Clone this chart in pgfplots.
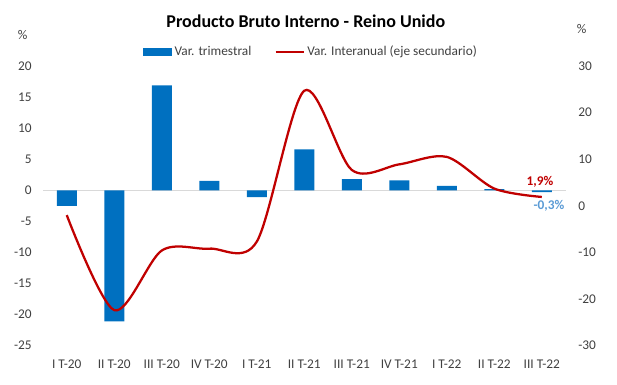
\documentclass[border=0pt]{standalone}
\usepackage{fontspec}
\setmainfont{Carlito}
\usepackage{pgfplots}
\usepackage{pgfplotstable}
\pgfplotsset{compat=1.18}
\definecolor{barblue}{HTML}{0070C0}
\definecolor{linered}{HTML}{C00000}
\definecolor{lblblue}{HTML}{5B9BD5}
\definecolor{txtgray}{HTML}{404040}
\definecolor{zerogray}{HTML}{D9D9D9}

\pgfplotstableread{
x q y
0 -2.5 -2.0
1 -21.1 -22.4
2 16.9 -9.6
3 1.5 -9.2
4 -1.1 -7.7
5 6.6 24.7
6 1.8 7.7
7 1.6 8.9
8 0.7 10.5
9 0.2 3.7
10 -0.3 1.9
}\data

\begin{document}
\begin{tikzpicture}
\path (0,0) rectangle (462.75pt,288.75pt);
\pgfplotsset{
  common/.style={
    scale only axis, width=391.9pt, height=209.6pt,
    at={(32.25pt,29.6pt)}, anchor=south west,
    xmin=-0.5, xmax=10.5,
    axis line style={draw=none},
    major tick length=0pt,
    tick label style={font=\fontsize{10}{12}\selectfont, text=txtgray},
    /pgf/number format/assume math mode=true,
  }
}
\begin{axis}[common,
  ymin=-25, ymax=20, ytick={-25,-20,...,20},
  xtick={0,...,10},
  xticklabels={I T-20, II T-20, III T-20, IV T-20, I T-21, II T-21, III T-21, IV T-21, I T-22, II T-22, III T-22},
  xticklabel style={yshift=-7pt},
  yticklabel style={xshift=-5pt},
  extra y ticks={0}, extra y tick labels={},
  extra y tick style={ymajorgrids=true, major grid style={zerogray, line width=0.75pt}},
  legend columns=2,
  legend style={at={(0.1908,1.050)}, anchor=west, draw=none, fill=none, inner sep=0pt,
    font=\fontsize{10}{12}\selectfont, text=txtgray,
    /tikz/every even column/.append style={column sep=15.5pt}},
]
\addplot[ybar, bar width=15pt, fill=barblue, draw=none,
  legend image code/.code={\fill[barblue] (0pt,-2.9pt) rectangle (21.75pt,2.9pt);}]
  table[x=x,y=q]{\data};
\addlegendentry{Var. trimestral}
\addlegendimage{legend image code/.code={\draw[linered, line width=1.5pt] (0pt,0pt) -- (21pt,0pt);}}
\addlegendentry{Var. Interanual (eje secundario)}
\node[font=\bfseries\fontsize{10}{12}\selectfont, text=lblblue] at (axis cs:10.15,-2.5) {-0,3\%};
\end{axis}
\begin{axis}[common,
  ymin=-30, ymax=30, ytick={-30,-20,...,30},
  axis y line*=right, hide x axis,
  yticklabel style={xshift=6pt},
]
\addplot[linered, line width=1.7pt, smooth] table[x=x,y=y]{\data};
\node[font=\bfseries\fontsize{10}{12}\selectfont, text=linered] at (axis cs:9.96,5.15) {1,9\%};
\end{axis}
\node[font=\bfseries\fontsize{13.5}{16}\selectfont, anchor=base] at (229.35pt,267.75pt) {Producto Bruto Interno - Reino Unido};
\node[font=\fontsize{10}{12}\selectfont, text=txtgray] at (16.9pt,262.5pt) {\%};
\node[font=\fontsize{10}{12}\selectfont, text=txtgray] at (436.3pt,266.8pt) {\%};
\end{tikzpicture}
\end{document}
